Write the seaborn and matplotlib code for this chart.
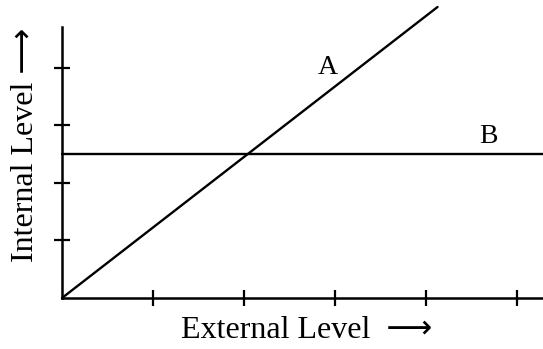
import matplotlib
matplotlib.use("Agg")
import matplotlib.pyplot as plt
import seaborn as sns
import pandas as pd

# Diagram values (data units: one x tick = 1, one y tick = 1)
x_ticks = [1, 2, 3, 4, 5]
y_ticks = [1, 2, 3, 4]
line_a_x = [0, 4.13]
line_a_y = [0, 5.06]
line_b_x = [0, 5.29]
line_b_y = [2.5, 2.5]
labels = ["A", "B"]
label_x = [2.92, 4.69]
label_y = [4.0, 2.8]

sns.set_theme(style="white")
plt.rcParams["font.family"] = ["Liberation Serif", "DejaVu Sans"]
plt.rcParams["text.color"] = "black"

W, H = 543, 349
fig = plt.figure(figsize=(W / 100, H / 100), dpi=100)
# origin at pixel (62, 298), axes top at pixel 7 so line A fits
ax = fig.add_axes([62 / W, (H - 298) / H, (W - 62) / W, (298 - 7) / H])

df_a = pd.DataFrame({"x": line_a_x, "y": line_a_y})
df_b = pd.DataFrame({"x": line_b_x, "y": line_b_y})
sns.lineplot(data=df_a, x="x", y="y", ax=ax, color="black", lw=1.7)
sns.lineplot(data=df_b, x="x", y="y", ax=ax, color="black", lw=1.7)
for ln in ax.lines:
    ln.set_clip_on(False)

for t, lx, ly in zip(labels, label_x, label_y):
    ax.text(lx, ly, t, fontsize=20, ha="center", va="center", color="black")

ax.set_xlim(0, 5.29)
ax.set_ylim(0, 5.06)
ax.set_xticks(x_ticks)
ax.set_yticks(y_ticks)
ax.set_xticklabels([])
ax.set_yticklabels([])
ax.tick_params(direction="inout", length=12, width=1.6, color="black",
               bottom=True, left=True)
ax.spines["top"].set_visible(False)
ax.spines["right"].set_visible(False)
for s in ("left", "bottom"):
    ax.spines[s].set_color("black")
    ax.spines[s].set_linewidth(1.8)
ax.spines["left"].set_bounds(0, 4.71)
ax.set_xlabel("")
ax.set_ylabel("")

fig.text(307 / W, 1 - 331 / H, "External Level  \u27f6", fontsize=23,
         ha="center", va="center", color="black")
fig.text(26 / W, 1 - 145 / H, "Internal Level \u27f6", fontsize=23,
         ha="center", va="center", rotation=90, color="black")

fig.savefig("out.png", dpi=100)
